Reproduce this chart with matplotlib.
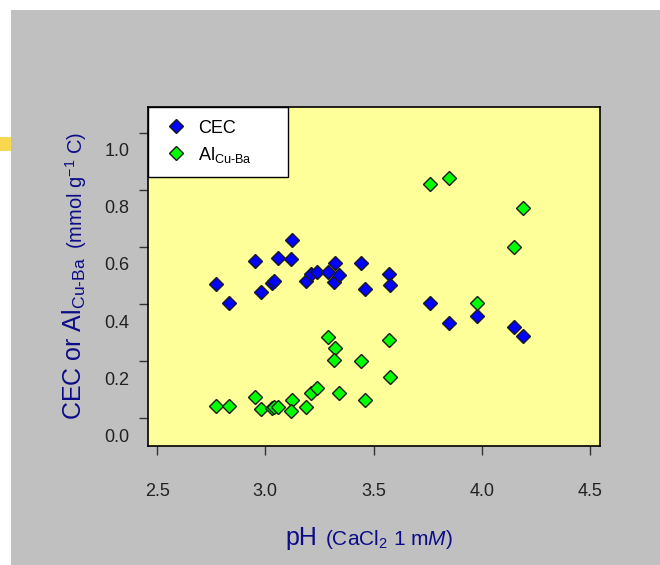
import matplotlib
matplotlib.use('Agg')
import matplotlib.pyplot as plt
from matplotlib.patches import Rectangle
from matplotlib.transforms import ScaledTranslation

plt.rcParams['font.family'] = ['Liberation Sans', 'DejaVu Sans']
plt.rcParams['mathtext.fontset'] = 'custom'
plt.rcParams['mathtext.rm'] = 'Liberation Sans'
plt.rcParams['mathtext.it'] = 'Liberation Sans:italic'
plt.rcParams['mathtext.bf'] = 'Liberation Sans:bold'

# data
ph = [2.77, 2.83, 2.95, 2.98, 3.03, 3.04, 3.06, 3.125, 3.12, 3.19, 3.21, 3.24,
      3.29, 3.32, 3.315, 3.34, 3.44, 3.46, 3.57, 3.575, 3.76, 3.85, 3.98, 4.15, 4.19]
cec = [0.469, 0.405, 0.551, 0.443, 0.475, 0.482, 0.560, 0.625, 0.558, 0.481, 0.505, 0.513,
       0.513, 0.543, 0.478, 0.502, 0.543, 0.452, 0.504, 0.467, 0.405, 0.332, 0.359, 0.318, 0.288]
al = [0.042, 0.043, 0.073, 0.031, 0.034, 0.039, 0.040, 0.063, 0.026, 0.038, 0.087, 0.104,
      0.283, 0.247, 0.204, 0.089, 0.199, 0.063, 0.275, 0.145, 0.821, 0.841, 0.402, 0.600, 0.738]

x_ticks = [2.5, 3.0, 3.5, 4.0, 4.5]
y_ticks = [0.0, 0.2, 0.4, 0.6, 0.8, 1.0]

label_blue = '#0c0c88'

fig = plt.figure(figsize=(6.6, 5.65), dpi=100)
fig.patch.set_facecolor('white')
# grey panel and the small yellow smudge on the left edge
fig.add_artist(Rectangle((11 / 660, 0), 1, 555 / 565, transform=fig.transFigure,
                         facecolor='#c0c0c0', edgecolor='none', zorder=-2))
fig.add_artist(Rectangle((0, 414 / 565), 11 / 660, 14 / 565, transform=fig.transFigure,
                         facecolor='#f8d850', edgecolor='none', zorder=-1))

ax = fig.add_axes([148 / 660, 119 / 565, 452 / 660, 339 / 565])
ax.set_facecolor('#ffff99')

ax.plot(ph, cec, 'D', linestyle='none', ms=7.5, mfc='#0000ff', mec='#1a1a1a', mew=1,
        label='CEC')
ax.plot(ph, al, 'D', linestyle='none', ms=7.5, mfc='#00ff00', mec='#1a1a1a', mew=1,
        label=r'Al$_{\mathrm{Cu\text{-}Ba}}$')

ax.set_xlim(2.458, 4.546)
ax.set_ylim(-0.098, 1.091)
ax.set_xticks(x_ticks)
ax.set_xticklabels(['%.1f' % t for t in x_ticks])
ax.set_yticks(y_ticks)
ax.set_yticklabels(['%.1f' % t for t in y_ticks])

ax.tick_params(direction='out', length=6.5, width=1, color='#333333',
               labelsize=13, labelcolor='#222222')
ax.tick_params(axis='x', pad=20)
ax.tick_params(axis='y', pad=7)
for spine in ax.spines.values():
    spine.set_linewidth(1.2)
    spine.set_color('black')

# y tick labels sit a bit lower than their ticks in the original
shift = ScaledTranslation(0, -0.17, fig.dpi_scale_trans)
for tick in ax.yaxis.get_major_ticks():
    tick.label1.set_transform(tick.label1.get_transform() + shift)

leg = ax.legend(loc='upper left', bbox_to_anchor=(0, 1, 140 / 452, 0), mode='expand',
                borderaxespad=0, frameon=True, fancybox=False, edgecolor='black',
                framealpha=1, fontsize=13, handlelength=1.7, handletextpad=0.38,
                borderpad=0.7, labelspacing=0.45, numpoints=1)
leg.get_frame().set_linewidth(1)

# axis titles built from pieces of different size
y1 = fig.text(82 / 660, 145 / 565, r'CEC or Al$_{\mathrm{Cu\text{-}Ba}}$', rotation=90,
              rotation_mode='anchor', ha='left', va='baseline', fontsize=18,
              color=label_blue)
ax.annotate(r'(mmol g$^{-1}$ C)', xy=(83 / 660, 1), xycoords=('figure fraction', y1),
            xytext=(0, 6), textcoords='offset points', rotation=90,
            rotation_mode='anchor', ha='left', va='baseline', fontsize=14.5,
            color=label_blue, annotation_clip=False)

x1 = fig.text(285 / 660, 20 / 565, 'pH', ha='left', va='baseline', fontsize=18,
              color=label_blue)
ax.annotate(r'(CaCl$_2$ 1 m$M$)', xy=(1, 20 / 565), xycoords=(x1, 'figure fraction'),
            xytext=(6, 0), textcoords='offset points', ha='left', va='baseline',
            fontsize=15, color=label_blue, annotation_clip=False)

fig.savefig('out.png', dpi=100, facecolor=fig.get_facecolor())
